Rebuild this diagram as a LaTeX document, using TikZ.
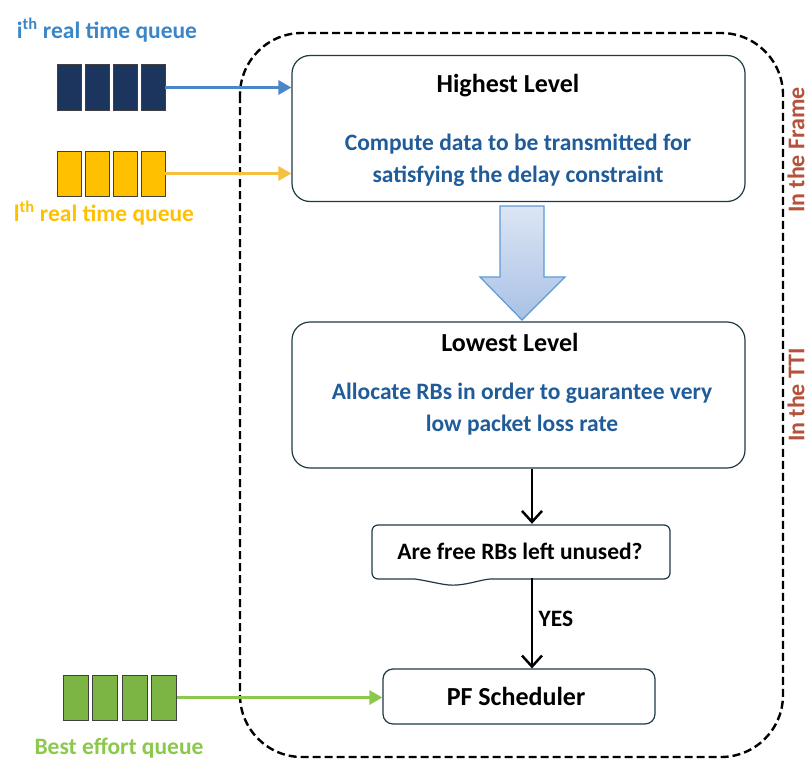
\documentclass[tikz,border=0pt]{standalone}
\usepackage{fontspec}
\setmainfont{Carlito}
\usetikzlibrary{arrows.meta,calc}
\definecolor{navyq}{HTML}{1B355E}
\definecolor{yelq}{HTML}{FFC000}
\definecolor{greq}{HTML}{7DB544}
\definecolor{bluearr}{HTML}{4A86C8}
\definecolor{yelarr}{HTML}{F4C03E}
\definecolor{grearr}{HTML}{8CC84B}
\definecolor{titleblue}{HTML}{3A86C8}
\definecolor{bodyblue}{HTML}{1F5C99}
\definecolor{sidered}{HTML}{B5523B}
\definecolor{boxline}{HTML}{1E3A44}
\definecolor{bigtop}{HTML}{DCE5F4}
\definecolor{bigbot}{HTML}{A9C1E6}
\definecolor{bigline}{HTML}{5B9BD5}
\begin{document}
\begin{tikzpicture}[x=1pt,y=-1pt,
  txt/.style={font=\fontsize{23.5}{32}\selectfont\bfseries},
  ttl/.style={font=\fontsize{26}{32}\selectfont\bfseries},
  side/.style={font=\fontsize{24}{28}\selectfont\bfseries,text=sidered,rotate=90,inner sep=0pt},
  qnode/.style={minimum width=108pt,minimum height=45pt,inner sep=0pt,draw=none},
  cell/.style={draw=black!75,line width=1pt},
  rbox/.style={draw=boxline,line width=1.2pt,rounded corners=18pt,fill=white,inner sep=0pt},
  colarr/.style={line width=3pt,-{Triangle[length=13pt,width=14pt]}},
  blkarr/.style={line width=2.5pt,-{Straight Barb[length=11pt,width=20pt,line width=2.5pt]}},
  border/.style={line width=2.4pt,dash pattern=on 8pt off 4pt,rounded corners=62pt}
]
\useasboundingbox (0,0) rectangle (811,760);

% dashed frame
\draw[border] (240,33) rectangle (783,757);

% side labels
\node[side] (lf) at (796,150) {In the Frame};
\node[side] (lt) at (796,395) {In the TTI};

% queues
\node[qnode] (nq) at (111,87.5) {};
\foreach \i in {0,...,3} \draw[cell,fill=navyq] (57+\i*28,65) rectangle ++(24,45);
\node[txt,text=titleblue] (nql) at (107,30) {i\textsuperscript{th} real time queue};

\node[qnode] (yq) at (111,173.5) {};
\foreach \i in {0,...,3} \draw[cell,fill=yelq] (57+\i*28,151) rectangle ++(24,45);
\node[txt,text=yelq] (yql) at (104,213) {l\textsuperscript{th} real time queue};

\node[qnode,minimum width=114pt] (gq) at (120,697.5) {};
\foreach \i in {0,...,3} \draw[cell,fill=greq] (63+\i*29.5,675) rectangle ++(25,45);
\node[txt,text=grearr] (gql) at (119,748) {Best effort queue};

% boxes
\node[rbox,minimum width=453pt,minimum height=146pt] (hl) at (518.5,128.5) {};
\node[ttl] (hlt) at (508,86) {Highest Level};
\node[txt,text=bodyblue,align=center] (hlb) at (518,160) {Compute data to be transmitted for\\satisfying the delay constraint};

\node[rbox,minimum width=453pt,minimum height=146pt] (ll) at (518.5,395) {};
\node[ttl] (llt) at (510,342) {Lowest Level};
\node[txt,text=bodyblue,align=center] (llb) at (522,409) {Allocate RBs in order to guarantee very\\low packet loss rate};

% big arrow
\shade[top color=bigtop,bottom color=bigbot,draw=bigline,line width=1.2pt]
  (500,206) -- (544,206) -- (544,277) -- (565,277) -- (522,320) -- (480,277) -- (500,277) -- cycle;

% decision
\node[txt,minimum width=298pt,minimum height=54pt,inner sep=0pt] (dec) at (520,551) {Are free RBs left unused?};
\draw[boxline,line width=1.2pt,rounded corners=6pt]
  (415,579) -- (372,579) -- (372,525) -- (670,525) -- (670,579) -- (490,579);
\draw[boxline,line width=1.2pt] (415,579) .. controls (435,582) and (445,586) .. (457,585)
  .. controls (470,584) and (480,580) .. (490,579);

\node[rbox,minimum width=272pt,minimum height=55pt,rounded corners=10pt] (pf) at (519,696.5) {};
\node[ttl] (pft) at (516,696) {PF Scheduler};

\node[txt] (yes) at (556,619) {YES};

% connectors
\coordinate (ax) at (532,0);
\draw[colarr,bluearr] (nq.east) -- (nq.east -| hl.west);
\draw[colarr,yelarr] (yq.east) -- (yq.east -| hl.west);
\draw[colarr,grearr] (gq.east) -- (gq.east -| pf.west);
\draw[blkarr] (ll.south -| ax) -- (dec.north -| ax);
\draw[blkarr] (dec.south -| ax) -- (pf.north -| ax);
\end{tikzpicture}
\end{document}
